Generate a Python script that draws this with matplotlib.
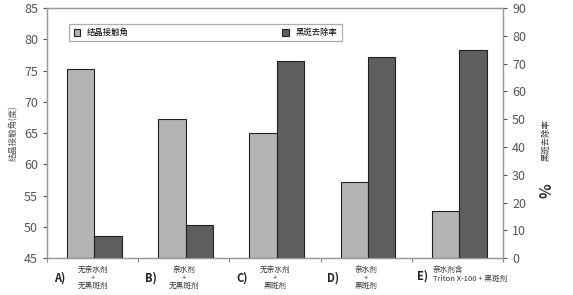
import numpy as np
import matplotlib.pyplot as plt

plt.rcParams['font.family'] = ['Noto Sans CJK SC', 'DejaVu Sans']

groups = ['A)', 'B)', 'C)', 'D)', 'E)']
group_text = [
    '无亲水剂\n+\n无黑斑剂',
    '亲水剂\n+\n无黑斑剂',
    '无亲水剂\n+\n黑斑剂',
    '亲水剂\n+\n黑斑剂',
    '亲水剂含\nTriton X-100 + 黑斑剂',
]
contact_angle = [75.2, 67.3, 65.0, 57.1, 52.6]
removal_rate = [7.8, 12.0, 71.0, 72.2, 75.0]

light = '#b4b4b4'
dark = '#5e5e5e'
grey = '#555555'

fig = plt.figure(figsize=(5.73, 2.95), dpi=100)
ax = fig.add_axes([0.082, 0.125, 0.796, 0.848])
ax2 = ax.twinx()

x = np.arange(len(groups))
w = 0.3
b1 = ax.bar(x - w / 2 + 0.02, np.array(contact_angle) - 45, w, bottom=45,
            color=light, edgecolor='#222222', linewidth=0.8, label='结晶接触角')
b2 = ax2.bar(x + w / 2 + 0.02, removal_rate, w,
             color=dark, edgecolor='#222222', linewidth=0.8, label='黑斑去除率')

ax.set_xlim(-0.5, 4.5)
ax.set_ylim(45, 85)
ax.set_yticks(range(45, 86, 5))
ax2.set_ylim(0, 90)
ax2.set_yticks(range(0, 91, 10))

ax.set_xticks(np.arange(-0.5, 4.6, 1))
ax.set_xticklabels([])
ax.tick_params(axis='x', length=3, color='#888888')
for a in (ax, ax2):
    a.tick_params(axis='y', labelsize=9, colors=grey, length=3)
    for s in a.spines.values():
        s.set_color('#999999')
        s.set_linewidth(0.9)

for i in range(len(groups)):
    if i < 4:
        ax.text(i - 0.36, -0.055, groups[i], transform=ax.get_xaxis_transform(),
                ha='center', va='top', fontsize=8, fontweight='bold', color='#222222')
        ax.text(i + 0.0, -0.03, group_text[i], transform=ax.get_xaxis_transform(),
                ha='center', va='top', fontsize=5.5, color='#333333', linespacing=1.0)
    else:
        ax.text(i - 0.38, -0.045, groups[i], transform=ax.get_xaxis_transform(),
                ha='center', va='top', fontsize=8, fontweight='bold', color='#222222')
        ax.text(i - 0.27, -0.03, group_text[i], transform=ax.get_xaxis_transform(),
                ha='left', va='top', fontsize=5.5, color='#333333', linespacing=1.3)

ax.set_ylabel('结晶接触角(度)', fontsize=6, color=grey, labelpad=4)
ax2.text(1.095, 0.27, '%', transform=ax2.transAxes, rotation=90,
         ha='center', va='center', fontsize=11, fontweight='bold', color='#333333')
ax2.text(1.095, 0.47, '黑斑去除率', transform=ax2.transAxes, rotation=90,
         ha='center', va='center', fontsize=6, color='#333333')

leg = ax.legend([b1, b2], ['结晶接触角', '黑斑去除率'], ncol=2, loc='upper left',
                bbox_to_anchor=(0.04, 0.872, 0.615, 0.08), mode='expand',
                fontsize=6, frameon=True, fancybox=False, borderpad=0.5,
                handlelength=0.8, handleheight=0.8)
leg.get_frame().set_edgecolor('#999999')
leg.get_frame().set_linewidth(0.9)

fig.savefig('out.png', dpi=100)
